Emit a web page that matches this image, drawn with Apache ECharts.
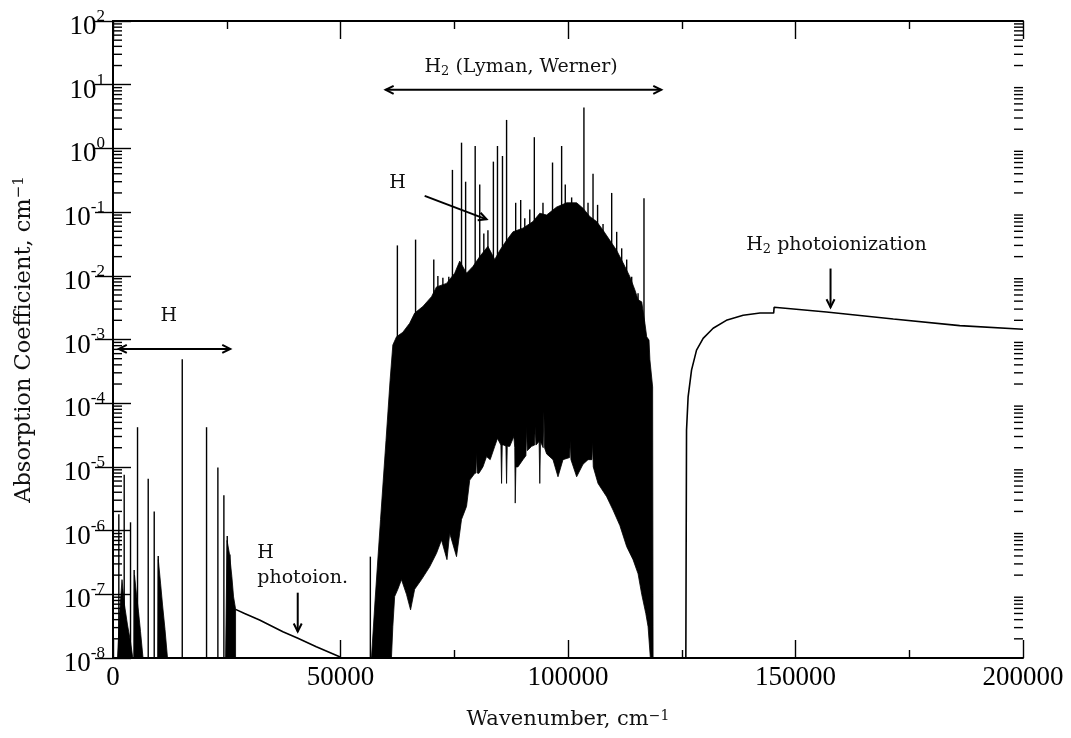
<!DOCTYPE html>
<html><head><meta charset="utf-8">
<script src="https://cdn.jsdelivr.net/npm/echarts@6/dist/echarts.min.js"></script>
<style>html,body{margin:0;padding:0;background:#fff}#c{width:1071px;height:738px}</style>
</head><body><div id="c"></div>
<script>
// ---------- axis ranges / tick labels ----------
const X_MIN = 0, X_MAX = 200000, X_STEP = 50000;
const Y_MIN = 1e-8, Y_MAX = 1e2;
const xTickLabels = [0, 50000, 100000, 150000, 200000];
const yTickExponents = [-8, -7, -6, -5, -4, -3, -2, -1, 0, 1, 2];

// ---------- atomic H lines (wavenumber cm^-1, peak coefficient), rising from the axis ----------
const hLineX = [1280, 2460, 3850, 4650, 5390, 7740, 9060, 9940, 15220, 20560, 23050, 24370, 25110, 25690];
const hLineY = [1.8e-6, 7.5e-6, 1.35e-6, 2.4e-7, 4.2e-5, 6.5e-6, 2.0e-6, 4.0e-7, 4.9e-4, 4.2e-5, 9.8e-6, 3.6e-6, 8.2e-7, 4.2e-7];
// isolated weak line before the H2 band
const isoLineX = [56560];
const isoLineY = [3.9e-7];

// ---------- dense H series-limit clusters (upper envelopes) ----------
const clusterAX = [990, 1430, 1980, 2530, 3190, 3850, 4350];
const clusterAY = [1e-8, 4.7e-8, 1.7e-7, 6.8e-8, 3.3e-8, 1.8e-8, 1e-8];
const clusterBX = [4620, 4730, 5170, 5610, 6050, 6600];
const clusterBY = [1e-8, 2.0e-7, 9.8e-8, 5.3e-8, 2.6e-8, 1e-8];
const clusterCX = [9850, 9960, 10450, 10890, 11430, 11980];
const clusterCY = [1e-8, 3.5e-7, 1.5e-7, 6.8e-8, 2.8e-8, 1e-8];
const clusterDX = [24740, 25070, 25620, 26120, 26500, 26940, 26940];
const clusterDY = [1e-8, 7.0e-7, 4.2e-7, 1.9e-7, 9.1e-8, 5.9e-8, 1e-8];

// ---------- H photoionization continuum ----------
const hContX = [26940, 28920, 32210, 37340, 40640, 44680, 49810, 50100];
const hContY = [5.8e-8, 5.0e-8, 3.95e-8, 2.59e-8, 2.04e-8, 1.5e-8, 1.05e-8, 1.0e-8];

// ---------- H2 Lyman/Werner band: upper and lower envelopes ----------
const bandUpperX = [56800, 57600, 58800, 60000, 60900, 61500, 62300, 63700, 65200, 66300, 68100, 70000, 71100, 73300, 75100, 76200, 77700, 79100, 80600, 82400, 83900, 85000, 86500, 87900, 90100, 92300, 93800, 95300, 97500, 99700, 101900, 103300, 104800, 106300, 107700, 109200, 110700, 112100, 113600, 114700, 115400, 116200, 116900, 117300, 117800, 118000, 118600, 118700];
const bandUpperY = [1e-8, 8.1e-8, 1.5e-6, 2.6e-5, 2.3e-4, 8.2e-4, 1.1e-3, 1.3e-3, 1.8e-3, 2.6e-3, 3.3e-3, 4.7e-3, 6.7e-3, 7.6e-3, 1.1e-2, 1.7e-2, 1.1e-2, 1.4e-2, 2.0e-2, 2.9e-2, 1.8e-2, 2.5e-2, 3.6e-2, 4.9e-2, 5.6e-2, 7.1e-2, 9.6e-2, 9.0e-2, 0.12, 0.14, 0.14, 0.115, 8.5e-2, 7.1e-2, 5.2e-2, 3.6e-2, 2.5e-2, 1.6e-2, 9.7e-3, 6.0e-3, 4.2e-3, 3.9e-3, 1.8e-3, 1.1e-3, 9.8e-4, 4.8e-4, 1.8e-4, 1e-8];
const bandLowerX = [61200, 61500, 61900, 62600, 63400, 64500, 65400, 66300, 67800, 69600, 71100, 72200, 73400, 74000, 75500, 76600, 77700, 78400, 79500, 79750, 79900, 80050, 80400, 81300, 82100, 82900, 83900, 84500, 85250, 85400, 85550, 85900, 86350, 86500, 86650, 87200, 88100, 88300, 88400, 88550, 89000, 90100, 90750, 90900, 91050, 92000, 92650, 92800, 92950, 93650, 93800, 93950, 94550, 94700, 94850, 95300, 96700, 97800, 98900, 100350, 100500, 100650, 101900, 103300, 104400, 105250, 105400, 105550, 106600, 108500, 109900, 111400, 112900, 114300, 115400, 116200, 117100, 117600, 118100];
const bandLowerY = [1e-8, 3.1e-8, 9.2e-8, 1.2e-7, 1.7e-7, 1.0e-7, 5.7e-8, 1.2e-7, 1.7e-7, 2.7e-7, 4.4e-7, 7.1e-7, 3.5e-7, 9.1e-7, 3.9e-7, 1.5e-6, 2.4e-6, 6.2e-6, 7.9e-6, 8.0e-6, 1.7e-5, 8.0e-6, 7.9e-6, 1.0e-5, 1.45e-5, 1.3e-5, 2.1e-5, 2.8e-5, 2.2e-5, 5.5e-6, 2.2e-5, 2.2e-5, 2.1e-5, 5.5e-6, 2.1e-5, 2.1e-5, 3.0e-5, 2.0e-5, 2.7e-6, 1.0e-5, 1.0e-5, 1.3e-5, 1.5e-5, 4.3e-5, 1.8e-5, 2.1e-5, 2.2e-5, 4.3e-5, 2.2e-5, 2.5e-5, 5.5e-6, 2.5e-5, 2.0e-5, 7.4e-5, 2.0e-5, 1.6e-5, 1.3e-5, 7.0e-6, 1.3e-5, 1.4e-5, 2.6e-5, 1.3e-5, 7.0e-6, 1.1e-5, 1.3e-5, 1.3e-5, 2.5e-5, 1.0e-5, 5.5e-6, 3.4e-6, 2.1e-6, 1.2e-6, 5.6e-7, 3.5e-7, 2.1e-7, 1.0e-7, 5.0e-8, 3.1e-8, 1e-8];

// ---------- strong individual lines standing above the band (rise from inside the band) ----------
const h2LineBase = 3e-4;
const h2LineX = [62500, 66500, 70500, 71400, 72500, 73800, 74600, 75600, 76600, 77500, 79600, 80600, 81500, 82400, 83600, 84500, 85600, 86500, 88500, 89600, 90500, 91600, 92600, 94500, 96600, 98600, 99400, 100800, 103500, 104400, 105500, 106500, 107700, 109600, 110700, 111800, 112900, 114000, 115400, 116700];
const h2LineY = [3.0e-2, 3.7e-2, 1.8e-2, 9.9e-3, 9.3e-3, 9.7e-3, 0.46, 1.1e-2, 1.23, 0.30, 1.09, 0.27, 4.6e-2, 5.2e-2, 0.62, 1.09, 0.76, 2.8, 0.14, 0.155, 8.0e-2, 0.11, 1.5, 0.14, 0.60, 1.09, 0.27, 0.17, 4.4, 0.14, 0.40, 0.13, 6.5e-2, 0.20, 4.9e-2, 2.7e-2, 1.8e-2, 9.7e-3, 5.3e-3, 0.165];

// ---------- H2 photoionization continuum ----------
const h2ContX = [125900, 125960, 126050, 126400, 127150, 128250, 129700, 131900, 134800, 138500, 142200, 145200, 145300, 156800, 171500, 186100, 200000];
const h2ContY = [1e-8, 3.5e-7, 3.8e-5, 1.26e-4, 3.3e-4, 6.8e-4, 1.04e-3, 1.5e-3, 2.0e-3, 2.4e-3, 2.6e-3, 2.6e-3, 3.2e-3, 2.7e-3, 2.1e-3, 1.65e-3, 1.45e-3];

// ---------- annotations (data coordinates) ----------
const annoTexts = [
  {parts: [['H', 'm'], ['2', 'sub'], [' (Lyman, Werner)', 'm']], at: [89700, 19.2], align: 'center'},
  {parts: [['H', 'm']], at: [12250, 2.3e-3], align: 'center'},
  {parts: [['H', 'm']], at: [62560, 0.286], align: 'center'},
  {parts: [['H', 'm']], at: [31710, 4.4e-7], align: 'left'},
  {parts: [['photoion.', 'm']], at: [31710, 1.8e-7], align: 'left'},
  {parts: [['H', 'm'], ['2', 'sub'], [' photoionization', 'm']], at: [159000, 3.05e-2], align: 'center'}
];
const annoArrows = [
  {from: [59920, 8.3], to: [120500, 8.3], both: true},
  {from: [1275, 7.1e-4], to: [25770, 7.1e-4], both: true},
  {from: [68500, 0.18], to: [82100, 0.077], both: false},
  {from: [40600, 1.06e-7], to: [40600, 2.6e-8], both: false},
  {from: [157700, 1.3e-2], to: [157700, 3.2e-3], both: false}
];

const TICK_FONT = '"Liberation Serif", "Times New Roman", serif';
const TEXT_FONT = '"DejaVu Serif", serif';

function pairs(xs, ys) { return xs.map((x, i) => [x, ys[i]]); }

const minorTickVals = [];
for (let e = -8; e < 2; e++) for (let m = 2; m <= 9; m++) minorTickVals.push(m * Math.pow(10, e));

const chart = echarts.init(document.getElementById('c'), null, {renderer: 'canvas'});

function spikeSeries(xs, ys, base) {
  return {
    type: 'custom', xAxisIndex: 0, yAxisIndex: 0, z: 3,
    data: pairs(xs, ys),
    renderItem: (params, api) => {
      const top = api.coord([api.value(0), api.value(1)]);
      const bot = api.coord([api.value(0), base]);
      return {type: 'line', shape: {x1: top[0], y1: bot[1], x2: top[0], y2: top[1]},
              style: {stroke: '#000', lineWidth: 1.4}};
    }
  };
}
function polySeries(upX, upY, loX, loY) {
  return {
    type: 'custom', xAxisIndex: 0, yAxisIndex: 0, z: 3,
    data: [[upX[0], upY[0]]],
    renderItem: (params, api) => {
      const pts = upX.map((x, i) => api.coord([x, upY[i]]));
      if (loX) for (let i = loX.length - 1; i >= 0; i--) pts.push(api.coord([loX[i], loY[i]]));
      return {type: 'polygon', shape: {points: pts}, style: {fill: '#000', stroke: '#000', lineWidth: 0.8}};
    }
  };
}
function lineSeries(xs, ys) {
  return {type: 'line', xAxisIndex: 0, yAxisIndex: 0, z: 3, data: pairs(xs, ys), showSymbol: false,
          symbol: 'none', lineStyle: {color: '#000', width: 1.6}, smooth: false};
}

const axisLineStyle = {color: '#000', width: 2};
const tickStyle = {color: '#000', width: 1.4};

const supRich = {
  b: {fontFamily: TICK_FONT, fontSize: 27, color: '#000', lineHeight: 30, padding: [12, 0, 0, 0]},
  s: {fontFamily: TICK_FONT, fontSize: 17, color: '#000', lineHeight: 20, padding: [0, 0, 9, 0]}
};
const xTitleRich = {
  t: {fontFamily: TEXT_FONT, fontSize: 21, color: '#111', lineHeight: 24},
  s: {fontFamily: TEXT_FONT, fontSize: 14, color: '#111', lineHeight: 16, padding: [0, 0, 8, 0]}
};
const yTitleRich = {
  t: {fontFamily: TEXT_FONT, fontSize: 22.5, color: '#111', lineHeight: 26},
  s: {fontFamily: TEXT_FONT, fontSize: 15, color: '#111', lineHeight: 17, padding: [0, 0, 9, 0]}
};

const xBase = {
  type: 'value', min: X_MIN, max: X_MAX, interval: X_STEP,
  axisLine: {show: true, lineStyle: axisLineStyle},
  axisTick: {show: true, inside: true, length: 18, lineStyle: tickStyle},
  minorTick: {show: true, splitNumber: 2, length: 8, lineStyle: tickStyle},
  splitLine: {show: false}, minorSplitLine: {show: false}
};
const yBase = {
  type: 'log', logBase: 10, min: Y_MIN, max: Y_MAX, interval: 1,
  axisLine: {show: true, lineStyle: axisLineStyle},
  axisTick: {show: true, inside: true, length: 18, lineStyle: tickStyle},
  splitLine: {show: false}
};

chart.setOption({
  animation: false,
  backgroundColor: '#fff',
  grid: {left: 113, right: 48, top: 21, bottom: 80, containLabel: false},
  xAxis: [
    Object.assign({}, xBase, {
      position: 'bottom', z: 5,
      axisLabel: {show: true, margin: 6, fontFamily: TICK_FONT, fontSize: 27, color: '#000',
                  formatter: v => (xTickLabels.indexOf(v) >= 0 ? String(v) : '')},
      name: '{t|Wavenumber, cm}{s|\u22121}', nameLocation: 'middle', nameGap: 50,
      nameTextStyle: {rich: xTitleRich}
    }),
    Object.assign({}, xBase, {position: 'top', z: 5, axisLabel: {show: false}})
  ],
  yAxis: [
    Object.assign({}, yBase, {
      position: 'left', z: 5,
      axisLabel: {show: true, margin: 8, rich: supRich,
                  formatter: v => { const e = Math.round(Math.log10(v));
                    return yTickExponents.indexOf(e) >= 0 ? '{b|10}{s|' + e + '}' : ''; }},
      name: '{t|Absorption Coefficient, cm}{s|\u22121}', nameLocation: 'middle', nameGap: 76, nameRotate: 90,
      nameTextStyle: {rich: yTitleRich}
    }),
    Object.assign({}, yBase, {position: 'right', z: 5, axisLabel: {show: false}})
  ],
  series: [
    {
      type: 'custom', xAxisIndex: 0, yAxisIndex: 0, z: 6,
      data: minorTickVals.map(v => [X_MIN, v]),
      renderItem: (params, api) => {
        const v = api.value(1);
        const l = api.coord([X_MIN, v]), r = api.coord([X_MAX, v]);
        return {type: 'group', children: [
          {type: 'line', shape: {x1: l[0], y1: l[1], x2: l[0] + 9, y2: l[1]}, style: {stroke: '#000', lineWidth: 1.4}},
          {type: 'line', shape: {x1: r[0] - 9, y1: r[1], x2: r[0], y2: r[1]}, style: {stroke: '#000', lineWidth: 1.4}}
        ]};
      }
    },
    polySeries(clusterAX, clusterAY),
    polySeries(clusterBX, clusterBY),
    polySeries(clusterCX, clusterCY),
    polySeries(clusterDX, clusterDY),
    polySeries(bandUpperX, bandUpperY, bandLowerX, bandLowerY),
    spikeSeries(hLineX, hLineY, Y_MIN),
    spikeSeries(isoLineX, isoLineY, Y_MIN),
    spikeSeries(h2LineX, h2LineY, h2LineBase),
    lineSeries(hContX, hContY),
    lineSeries(h2ContX, h2ContY)
  ]
});

// ---------- annotations placed through the chart's own coordinate system ----------
function toPx(p) { return chart.convertToPixel({xAxisIndex: 0, yAxisIndex: 0}, p); }
const annoRich = {
  m: {fontFamily: TEXT_FONT, fontSize: 19, color: '#111', lineHeight: 22},
  sub: {fontFamily: TEXT_FONT, fontSize: 13, color: '#111', lineHeight: 14, padding: [10, 0, 0, 0]}
};
const graphics = [];
annoTexts.forEach(a => {
  const p = toPx(a.at);
  graphics.push({type: 'text', x: p[0], y: p[1], z: 100,
    style: {text: a.parts.map(q => '{' + q[1] + '|' + q[0] + '}').join(''), rich: annoRich,
            align: a.align, verticalAlign: 'middle', fill: '#111'}});
});
function head(tip, from) {
  const dx = tip[0] - from[0], dy = tip[1] - from[1];
  const L = Math.hypot(dx, dy), ux = dx / L, uy = dy / L, len = 8, w = 4;
  return {type: 'polyline', z: 100, shape: {points: [
    [tip[0] - ux * len - uy * w, tip[1] - uy * len + ux * w], [tip[0], tip[1]],
    [tip[0] - ux * len + uy * w, tip[1] - uy * len - ux * w]]},
    style: {stroke: '#000', lineWidth: 2, fill: 'none'}};
}
annoArrows.forEach(a => {
  const p1 = toPx(a.from), p2 = toPx(a.to);
  graphics.push({type: 'line', z: 100, shape: {x1: p1[0], y1: p1[1], x2: p2[0], y2: p2[1]},
                 style: {stroke: '#000', lineWidth: 2}});
  graphics.push(head(p2, p1));
  if (a.both) graphics.push(head(p1, p2));
});
chart.setOption({graphic: graphics});
</script>
</body></html>
